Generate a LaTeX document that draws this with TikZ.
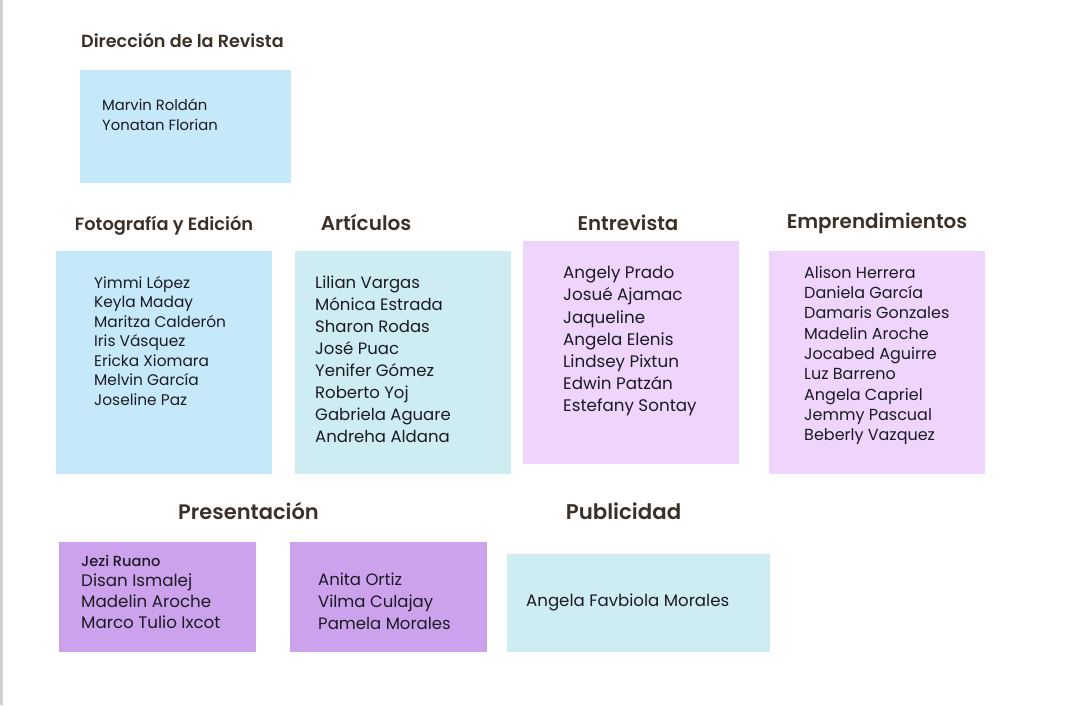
\documentclass[tikz,border=0pt]{standalone}
\usepackage{fontspec}
\setmainfont{Poppins}
\newfontfamily\titlefont{Poppins SemiBold}
\newfontfamily\medfont{Poppins Medium}
\definecolor{lblue}{HTML}{C6E9F9}
\definecolor{lcyan}{HTML}{CDEDF3}
\definecolor{lpurple}{HTML}{EFD4FC}
\definecolor{mpurple}{HTML}{CCA2EC}
\definecolor{titlecol}{HTML}{3B3129}
\definecolor{namecol}{HTML}{1C1A24}
\definecolor{edgegray}{HTML}{CFCFCF}
\begin{document}
\begin{tikzpicture}[x=1pt,y=-1pt,
  box/.style={draw=none,anchor=north west,inner sep=0pt},
  names/.style={anchor=north west,inner sep=0pt,align=left,text=namecol},
  ttl/.style={anchor=base,inner sep=0pt,text=titlecol},
]
\useasboundingbox (0,0) rectangle (1092,705);
\fill[white] (0,0) rectangle (1092,705);
\fill[edgegray] (0,0) rectangle (3,705);

% Direccion
\node[ttl,anchor=base west,font=\titlefont\fontsize{17.6}{20}\selectfont] (tdir) at (81,47) {Dirección de la Revista};
\node[box,fill=lblue,minimum width=211pt,minimum height=113pt] (bdir) at (80,70) {};
\node[names,font=\fontsize{14.8}{20}\selectfont] (ndir) at (102,96) {\strut Marvin Roldán\\Yonatan Florian};

% Fotografia
\node[ttl,font=\titlefont\fontsize{17.8}{20}\selectfont] (tfot) at (164,230) {Fotografía y Edición};
\node[box,fill=lblue,minimum width=216pt,minimum height=223pt] (bfot) at (56,251) {};
\node[names,font=\fontsize{15.4}{19.5}\selectfont] (nfot) at (94,274.3) {\strut Yimmi López\\Keyla Maday\\Maritza Calderón\\Iris Vásquez\\Ericka Xiomara\\Melvin García\\Joseline Paz};

% Articulos
\node[ttl,font=\titlefont\fontsize{20}{22}\selectfont] (tart) at (366,230) {Artículos};
\node[box,fill=lcyan,minimum width=216pt,minimum height=223pt] (bart) at (295,251) {};
\node[names,font=\fontsize{16.5}{22}\selectfont] (nart) at (315,273.2) {\strut Lilian Vargas\\Mónica Estrada\\Sharon Rodas\\José Puac\\Yenifer Gómez\\Roberto Yoj\\Gabriela Aguare\\Andreha Aldana};

% Entrevista
\node[ttl,font=\titlefont\fontsize{19.8}{22}\selectfont] (tent) at (628,230) {Entrevista};
\node[box,fill=lpurple,minimum width=216pt,minimum height=223pt] (bent) at (523,241) {};
\node[names,font=\fontsize{16.75}{22.2}\selectfont] (nent) at (563,263) {\strut Angely Prado\\Josué Ajamac\\Jaqueline\\Angela Elenis\\Lindsey Pixtun\\Edwin Patzán\\Estefany Sontay};

% Emprendimientos
\node[ttl,font=\titlefont\fontsize{19.9}{22}\selectfont] (temp) at (877,228) {Emprendimientos};
\node[box,fill=lpurple,minimum width=216pt,minimum height=223pt] (bemp) at (769,251) {};
\node[names,font=\fontsize{16}{20.3}\selectfont] (nemp) at (804,263.8) {\strut Alison Herrera\\Daniela García\\Damaris Gonzales\\Madelin Aroche\\Jocabed Aguirre\\Luz Barreno\\Angela Capriel\\Jemmy Pascual\\Beberly Vazquez};

% Presentacion
\node[ttl,font=\titlefont\fontsize{21}{24}\selectfont] (tpre) at (248.5,519) {Presentación};
\node[box,fill=mpurple,minimum width=197pt,minimum height=110pt] (bpre1) at (59,542) {};
\node[box,fill=mpurple,minimum width=197pt,minimum height=110pt] (bpre2) at (290,542) {};
\node[anchor=base west,inner sep=0pt,text=namecol,font=\medfont\fontsize{14.6}{16}\selectfont] (njez) at (81,566.5) {Jezi Ruano};
\node[names,font=\fontsize{16.7}{21}\selectfont] (npre1) at (81,571.7) {\strut Disan Ismalej\\Madelin Aroche\\Marco Tulio Ixcot};
\node[names,font=\fontsize{16.5}{22}\selectfont] (npre2) at (318,569.7) {\strut Anita Ortiz\\Vilma Culajay\\Pamela Morales};

% Publicidad
\node[ttl,font=\titlefont\fontsize{21.3}{24}\selectfont] (tpub) at (623.5,519) {Publicidad};
\node[box,fill=lcyan,minimum width=263pt,minimum height=98pt] (bpub) at (507,554) {};
\node[anchor=base west,inner sep=0pt,text=namecol,font=\fontsize{16.6}{20}\selectfont] (npub) at (526,606.5) {Angela Favbiola Morales};
\end{tikzpicture}
\end{document}
